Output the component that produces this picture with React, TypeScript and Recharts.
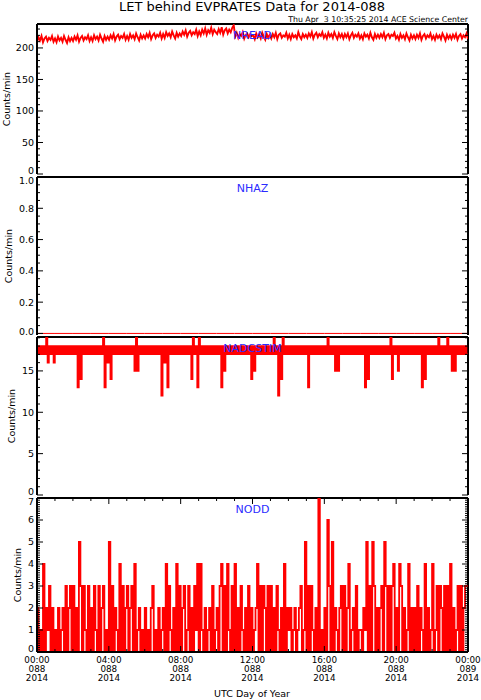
import React from 'react';
import { LineChart, Line, XAxis, YAxis, ReferenceLine } from 'recharts';

// ---------- data (5-minute bins) ----------
const NREAD = [
  210,217,212,219,209,215,218,211,216,213,219,210,
  215,209,218,212,216,210,219,213,208,217,211,216,
  211,218,213,220,210,216,219,212,217,214,220,211,
  217,211,220,214,218,212,221,215,210,219,213,218,
  213,220,215,222,212,218,221,214,219,216,222,213,
  219,213,222,216,220,214,223,217,212,221,215,220,
  215,222,217,224,214,220,223,216,221,218,224,215,
  222,216,225,219,223,217,226,220,215,224,218,223,
  219,226,221,228,218,224,227,220,225,222,229,219,
  226,220,229,223,231,221,228,224,232,222,229,225,
  222,230,224,233,221,228,231,223,229,225,232,236,
  218,224,216,222,219,225,215,221,223,217,222,219,
  220,214,223,217,221,215,224,218,213,222,216,221,
  215,222,217,224,214,221,223,216,220,218,224,215,
  221,214,222,217,220,215,225,218,214,222,217,221,
  216,223,218,225,215,221,224,217,222,219,225,216,
  221,215,224,218,222,216,225,219,214,223,217,222,
  215,222,217,223,214,220,224,216,221,218,223,215,
  220,214,223,218,221,215,224,217,213,222,216,221,
  216,222,217,224,214,220,222,216,221,219,224,215,
  219,213,222,216,220,214,223,217,212,221,215,220,
  214,221,216,223,213,219,222,215,220,217,223,214,
  219,213,221,216,220,214,223,218,212,221,215,220,
  214,221,216,222,213,219,222,215,220,217,223,214,
];

const NHAZ = [0,0,0,0,0,0,0,0,0,0,0,0,0,0,0,0,0,0,0,0,0,0,0,0,0];

const NADCSTIM = [
  18,17,18,17,18,17,20,16,18,17,18,16,
  18,17,18,17,18,17,18,17,18,17,18,17,
  18,17,18,13,18,14,18,17,18,17,18,17,
  18,17,18,17,18,17,18,17,20,13,18,16,
  18,14,18,17,18,17,18,17,18,17,18,17,
  18,17,18,17,18,15,20,15,18,17,18,17,
  18,17,18,17,18,17,18,17,18,17,18,12,
  18,16,18,13,18,17,18,17,18,17,18,17,
  18,17,18,17,18,17,18,14,20,17,18,13,
  20,17,18,17,18,17,18,17,18,17,18,17,
  18,17,18,13,18,15,18,17,18,17,18,17,
  18,17,18,17,18,17,18,17,18,17,18,14,
  18,15,18,17,18,17,18,17,18,17,18,17,
  18,17,20,17,18,12,18,14,20,17,18,17,
  18,17,18,17,18,17,18,17,18,17,18,17,
  18,13,18,17,18,17,18,17,18,17,18,17,
  18,17,20,17,18,17,18,15,18,15,18,17,
  18,17,18,17,18,17,18,17,18,17,18,17,
  18,17,18,13,18,14,18,17,18,17,18,17,
  18,17,18,17,18,17,18,17,20,14,18,17,
  18,15,18,17,18,17,18,17,18,17,18,17,
  18,17,18,17,18,13,18,14,18,17,18,17,
  18,17,18,17,20,17,18,17,18,17,20,17,
  18,15,18,15,18,17,18,17,18,17,18,17,
];

const NODD = [
  2,0,1,0,4,0,2,1,3,0,2,0,
  1,0,2,0,1,2,0,3,0,2,3,0,
  3,0,2,0,5,3,0,3,1,0,3,0,
  2,0,3,1,0,3,0,2,3,0,1,0,
  5,0,3,0,2,1,0,4,0,3,0,2,
  3,0,2,3,0,4,0,1,2,0,1,0,
  2,0,1,0,2,3,0,1,0,2,0,1,
  2,0,4,0,3,1,0,2,0,4,0,3,
  0,2,3,0,1,3,0,2,0,3,1,4,
  0,4,1,0,2,0,1,2,0,3,0,1,
  2,0,3,4,0,3,0,4,1,0,3,0,
  4,0,2,0,3,1,0,2,0,3,0,2,
  0,1,2,4,0,3,0,3,2,0,3,0,
  3,0,2,0,3,1,0,2,0,4,0,2,
  1,2,0,1,2,0,1,2,3,0,1,5,
  0,3,0,3,1,0,2,0,7,0,1,0,
  2,0,6,3,0,5,0,2,1,0,2,3,
  0,3,0,2,4,0,1,2,0,3,0,1,
  1,0,2,1,5,0,3,0,5,3,0,2,
  0,2,3,0,5,3,0,3,0,3,4,0,
  2,0,4,3,0,2,0,1,4,0,2,0,
  2,0,3,0,2,1,0,4,0,2,0,1,
  4,0,1,3,0,3,2,0,3,0,3,0,
  4,0,2,0,1,3,0,3,0,2,3,3,
];

// ---------- tick labels ----------
const X_TICKS = [0,60,120,180,240,300,360,420,480,540,600,660,720,780,840,900,960,1020,1080,1140,1200,1260,1320,1380,1440];
const X_MAJOR_TICKS = [0,240,480,720,960,1200,1440];
const X_TIME_LABELS = ['00:00','04:00','08:00','12:00','16:00','20:00','00:00'];
const X_DAY_LABELS = ['088','088','088','088','088','088','089'];
const X_YEAR_LABELS = ['2014','2014','2014','2014','2014','2014','2014'];

const Y1_MAJOR = [0,50,100,150,200];
const Y1_TICKS = [0,10,20,30,40,50,60,70,80,90,100,110,120,130,140,150,160,170,180,190,200,210,220,230];
const Y2_MAJOR = [0,0.2,0.4,0.6,0.8,1.0];
const Y2_TICKS = [0,0.05,0.1,0.15,0.2,0.25,0.3,0.35,0.4,0.45,0.5,0.55,0.6,0.65,0.7,0.75,0.8,0.85,0.9,0.95,1.0];
const Y3_MAJOR = [0,5,10,15];
const Y3_TICKS = [0,1,2,3,4,5,6,7,8,9,10,11,12,13,14,15,16,17,18,19];
const Y4_MAJOR = [0,1,2,3,4,5,6,7];
const Y4_TICKS = Array.from({ length: 71 }, (_, i) => i / 10);

const PANEL_NAMES = ['NREAD', 'NHAZ', 'NADCSTIM', 'NODD'];

// ---------- layout ----------
const W = 481;
const PLOT_LEFT = 37;
const PLOT_RIGHT = 468;
const PLOT_W = PLOT_RIGHT - PLOT_LEFT;
const MT = 5;
const MB = 4;
const FONT = '"DejaVu Sans", sans-serif';
const RED = '#ff0000';
const BLUE = '#2b2bff';

const lineData = (arr: number[]) => arr.map((v, i) => ({ t: (i * 1440) / (arr.length - 1), v }));
const stepData = (arr: number[]) => [
  ...arr.map((v, i) => ({ t: i * 5, v })),
  { t: 1440, v: arr[arr.length - 1] },
];

const near = (list: number[], v: number) => list.some((m) => Math.abs(m - v) < 1e-6);

function XTick(props: any) {
  const { x, y, payload, h, showLabels } = props;
  const t = payload.value;
  const mi = X_MAJOR_TICKS.indexOf(t);
  const major = mi >= 0;
  const len = major ? 6 : 3;
  return (
    <g>
      <line x1={x} x2={x} y1={y} y2={y - len} stroke="#000" strokeWidth={1} />
      <line x1={x} x2={x} y1={y - h} y2={y - h + len} stroke="#000" strokeWidth={1} />
      {showLabels && major && (
        <g fontSize={8.8} fontFamily={FONT} fill="#000" textAnchor="middle">
          <text x={x} y={y + 10.5}>{X_TIME_LABELS[mi]}</text>
          <text x={x} y={y + 19.8}>{X_DAY_LABELS[mi]}</text>
          <text x={x} y={y + 29.1}>{X_YEAR_LABELS[mi]}</text>
        </g>
      )}
    </g>
  );
}

function YTick(props: any) {
  const { x, y, payload, majors, fmt, h } = props;
  const v = payload.value;
  const major = near(majors, v);
  const len = major ? 6 : 3;
  const bottomY = MT + h;
  const topY = MT;
  let ty = y;
  if (Math.abs(y - bottomY) < 2.5) ty = bottomY - 3.5;
  else if (Math.abs(y - topY) < 2.5) ty = topY + 4;
  return (
    <g>
      <line x1={x} x2={x + len} y1={y} y2={y} stroke="#000" strokeWidth={1} />
      <line x1={x + PLOT_W} x2={x + PLOT_W - len} y1={y} y2={y} stroke="#000" strokeWidth={1} />
      {major && (
        <text x={x - 3} y={ty} dy="0.36em" textAnchor="end" fontSize={9.5} fontFamily={FONT} fill="#000">
          {fmt(v)}
        </text>
      )}
    </g>
  );
}

function Panel(props: any) {
  const { data, top, h, domain, yTicks, yMajors, fmt, curve, showX, width } = props;
  const xh = showX ? 46 : 0;
  const height = MT + h + xh + MB;
  return (
    <div style={{ position: 'absolute', left: 0, top: top - MT }}>
      <LineChart width={W} height={height} data={data} margin={{ top: MT, right: W - PLOT_RIGHT, bottom: MB, left: 0 }}>
        <XAxis
          dataKey="t"
          type="number"
          domain={[0, 1440]}
          ticks={X_TICKS}
          interval={0}
          height={xh}
          tickSize={0}
          tickMargin={0}
          tickLine={false}
          axisLine={{ stroke: '#000', strokeWidth: 2 }}
          tick={(p: any) => <XTick {...p} h={h} showLabels={showX} />}
          allowDataOverflow
        />
        <YAxis
          type="number"
          domain={domain}
          ticks={yTicks}
          interval={0}
          width={PLOT_LEFT}
          tickSize={0}
          tickMargin={0}
          tickLine={false}
          axisLine={{ stroke: '#000', strokeWidth: 2 }}
          tick={(p: any) => <YTick {...p} majors={yMajors} fmt={fmt} h={h} />}
          allowDataOverflow
        />
        <ReferenceLine y={domain[1]} stroke="#000" strokeWidth={2} />
        <ReferenceLine x={1440} stroke="#000" strokeWidth={2} />
        <Line
          dataKey="v"
          type={curve}
          stroke={RED}
          strokeWidth={width}
          dot={false}
          activeDot={false}
          isAnimationActive={false}
        />
      </LineChart>
    </div>
  );
}

const PANELS = [
  { top: 24, h: 150, yLabelX: 10 },
  { top: 177, h: 158, yLabelX: 11.7 },
  { top: 337, h: 158, yLabelX: 15 },
  { top: 498, h: 154, yLabelX: 20.5 },
];

export default function App() {
  const intFmt = (v: number) => String(v);
  const oneFmt = (v: number) => v.toFixed(1);
  return (
    <div style={{ position: 'absolute', left: 0, top: 0, width: W, height: 700, background: '#fff', overflow: 'hidden' }}>
      <Panel data={lineData(NREAD)} top={PANELS[0].top} h={PANELS[0].h} domain={[0, 238]} yTicks={Y1_TICKS} yMajors={Y1_MAJOR} fmt={intFmt} curve="linear" showX={false} width={1.9} />
      <Panel data={lineData(NHAZ)} top={PANELS[1].top} h={PANELS[1].h} domain={[-0.01, 1]} yTicks={Y2_TICKS} yMajors={Y2_MAJOR} fmt={oneFmt} curve="linear" showX={false} width={1} />
      <Panel data={stepData(NADCSTIM)} top={PANELS[2].top} h={PANELS[2].h} domain={[0, 19.1]} yTicks={Y3_TICKS} yMajors={Y3_MAJOR} fmt={intFmt} curve="stepAfter" showX={false} width={1.5} />
      <Panel data={stepData(NODD)} top={PANELS[3].top} h={PANELS[3].h} domain={[0, 7]} yTicks={Y4_TICKS} yMajors={Y4_MAJOR} fmt={intFmt} curve="stepAfter" showX={true} width={1.8} />
      <svg width={W} height={700} style={{ position: 'absolute', left: 0, top: 0, pointerEvents: 'none' }}>
        <text x={252} y={11} textAnchor="middle" fontSize={13} fontFamily={FONT} fill="#000">
          LET behind EVPRATES Data for 2014-088
        </text>
        <text x={468} y={22} textAnchor="end" fontSize={7.8} fontFamily={FONT} fill="#000" style={{ whiteSpace: 'pre' }}>
          {'Thu Apr  3 10:35:25 2014 ACE Science Center'}
        </text>
        {PANELS.map((p, i) => (
          <g key={i}>
            <text
              x={p.yLabelX}
              y={p.top + p.h / 2}
              textAnchor="middle"
              fontSize={9.5}
              fontFamily={FONT}
              fill="#000"
              transform={`rotate(-90, ${p.yLabelX}, ${p.top + p.h / 2})`}
            >
              Counts/min
            </text>
            <text x={252.5} y={p.top + 15} textAnchor="middle" fontSize={11} fontFamily={FONT} fill={BLUE}>
              {PANEL_NAMES[i]}
            </text>
          </g>
        ))}
        <text x={252} y={697} textAnchor="middle" fontSize={9.5} fontFamily={FONT} fill="#000">
          UTC Day of Year
        </text>
      </svg>
    </div>
  );
}
